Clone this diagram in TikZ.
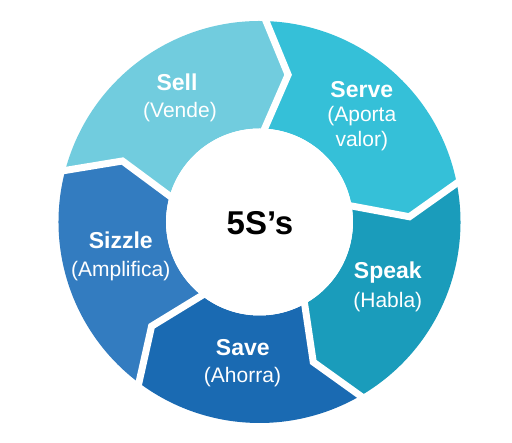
\documentclass[tikz,border=0pt]{standalone}
\usepackage{fontspec}
\setmainfont{Liberation Sans}
\definecolor{sellc}{RGB}{113,204,222}
\definecolor{servec}{RGB}{53,192,216}
\definecolor{speakc}{RGB}{26,156,187}
\definecolor{savec}{RGB}{26,106,178}
\definecolor{sizzlec}{RGB}{51,124,192}
\begin{document}
\begin{tikzpicture}[x=1pt,y=1pt,
  lbl/.style={text=white,anchor=base,inner sep=0pt,font=\fontsize{23}{27}\selectfont\bfseries},
  sublbl/.style={text=white,anchor=base,inner sep=0pt,align=center,font=\fontsize{21}{25}\selectfont},
  gap/.style={draw=white,line width=7pt,line join=miter}]
  \useasboundingbox (-259.5,-221) rectangle (252.5,222);
  % ring segments, clockwise
  \fill[sellc] (166:201) arc[start angle=166,end angle=89,radius=201] -- (79:150) -- (89:93.5)
    arc[start angle=89,end angle=166,radius=93.5] -- (156:150) -- cycle;
  \fill[servec] (89:201) arc[start angle=89,end angle=12,radius=201] -- (2:150) -- (12:93.5)
    arc[start angle=12,end angle=89,radius=93.5] -- (79:150) -- cycle;
  \fill[speakc] (12:201) arc[start angle=12,end angle=-59,radius=201] -- (-69:150) -- (-59:93.5)
    arc[start angle=-59,end angle=12,radius=93.5] -- (2:150) -- cycle;
  \fill[savec] (-59:201) arc[start angle=-59,end angle=-126,radius=201] -- (-136:150) -- (-126:93.5)
    arc[start angle=-126,end angle=-59,radius=93.5] -- (-69:150) -- cycle;
  \fill[sizzlec] (-126:201) arc[start angle=-126,end angle=-194,radius=201] -- (156:150) -- (166:93.5)
    arc[start angle=166,end angle=234,radius=93.5] -- (-136:150) -- cycle;
  % white gaps
  \draw[gap] (89:208) -- (79:150) -- (89:85);
  \draw[gap] (12:208) -- (2:150) -- (12:85);
  \draw[gap] (-59:208) -- (-69:150) -- (-59:85);
  \draw[gap] (-126:208) -- (-136:150) -- (-126:85);
  \draw[gap] (166:208) -- (156:150) -- (166:85);
  % centre
  \node[circle,fill=white,minimum size=187pt,inner sep=0pt] (hub) at (0,0) {};
  \node[anchor=base,inner sep=0pt,font=\fontsize{33}{38}\selectfont\bfseries] (five) at (0.5,-13) {5S’s};
  % labels
  \node[lbl] (sell) at (-82.5,131.3) {Sell};
  \node[sublbl] (vende) at (-79.5,104) {(Vende)};
  \node[lbl] (serve) at (102.3,124.7) {Serve};
  \node[sublbl] (aporta) at (102.3,75.3) {(Aporta\\valor)};
  \node[lbl] (speak) at (128.3,-57) {Speak};
  \node[sublbl] (habla) at (128.3,-86) {(Habla)};
  \node[lbl] (save) at (-16.7,-133.7) {Save};
  \node[sublbl] (ahorra) at (-17,-161) {(Ahorra)};
  \node[lbl] (sizzle) at (-138.7,-26.3) {Sizzle};
  \node[sublbl] (amplifica) at (-138.8,-54.7) {(Amplifica)};
\end{tikzpicture}
\end{document}
